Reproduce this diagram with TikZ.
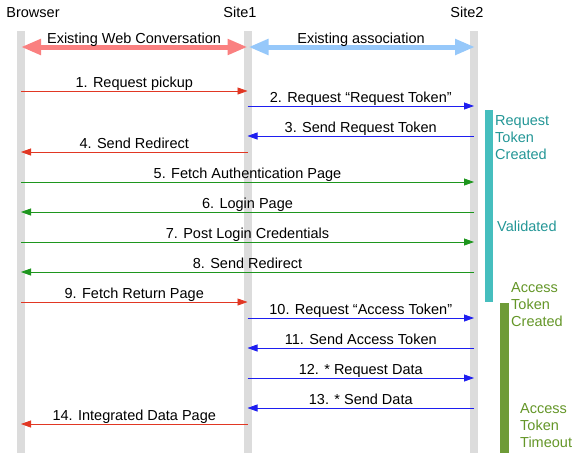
\documentclass[tikz,border=0pt]{standalone}
\usepackage{fontspec}
\setmainfont{Liberation Sans}
\usetikzlibrary{arrows.meta, positioning}

\definecolor{lifegray}{RGB}{220,220,220}
\definecolor{msgred}{RGB}{225,55,35}
\definecolor{msgblue}{RGB}{30,30,240}
\definecolor{msggreen}{RGB}{30,150,30}
\definecolor{convred}{RGB}{250,128,128}
\definecolor{assocblue}{RGB}{150,200,250}
\definecolor{tealbar}{RGB}{70,190,190}
\definecolor{tealtext}{RGB}{35,150,150}
\definecolor{olivebar}{RGB}{110,155,55}
\definecolor{olivetext}{RGB}{100,150,40}

\begin{document}
\begin{tikzpicture}[x=1pt, y=-1pt, font=\fontsize{14.5}{17}\selectfont,
    lifeline/.style={fill=lifegray, draw=none},
    msg/.style={-{Triangle[length=10pt,width=7pt]}, line width=0.8pt},
    wide/.style={{Triangle[length=20pt,width=15pt]}-{Triangle[length=20pt,width=15pt]}, line width=5pt},
    sidenote/.style={anchor=north west, inner sep=0pt, align=left}]
    \useasboundingbox (0,0) rectangle (584,461);

    % actors
    \node[anchor=base] (browser) at (33,17) {Browser};
    \node[anchor=base] (site1) at (240,17) {Site1};
    \node[anchor=base] (site2) at (467,17) {Site2};

    \coordinate (b) at (21,0);
    \coordinate (s1) at (247.5,0);
    \coordinate (s2) at (474,0);

    % lifelines
    \foreach \x in {b,s1,s2}
        \fill[lifeline] ([xshift=-4pt]\x |- 0,31) rectangle ([xshift=4pt]\x |- 0,453);

    % existing links
    \draw[wide, convred] (b |- 0,47) -- (s1 |- 0,47);
    \draw[wide, assocblue] ([xshift=1pt]s1 |- 0,47) -- ([xshift=1pt]s2 |- 0,47);
    \node[anchor=base] (conv) at (134,43) {Existing Web Conversation};
    \node[anchor=base] (assoc) at (361,43) {Existing association};

    % messages
    \foreach \y/\from/\to/\col/\txt in {
        91/b/s1/msgred/{1. Request pickup},
        106/s1/s2/msgblue/{2. Request ``Request Token''},
        136/s2/s1/msgblue/{3. Send Request Token},
        152/s1/b/msgred/{4. Send Redirect},
        182/b/s2/msggreen/{5. Fetch Authentication Page},
        212/s2/b/msggreen/{6. Login Page},
        242/b/s2/msggreen/{7. Post Login Credentials},
        272/s2/b/msggreen/{8. Send Redirect},
        302/b/s1/msgred/{9. Fetch Return Page},
        318/s1/s2/msgblue/{10. Request ``Access Token''},
        348/s2/s1/msgblue/{11. Send Access Token},
        378/s1/s2/msgblue/{12. * Request Data},
        408/s2/s1/msgblue/{13. * Send Data},
        424/s1/b/msgred/{14. Integrated Data Page}}
        \draw[msg, \col] (\from |- 0,\y) -- (\to |- 0,\y)
            node[midway, anchor=base, yshift=4pt, text=black] {\txt};

    % token state bars
    \fill[tealbar] (485,110) rectangle (493,302);
    \fill[olivebar] (500,303) rectangle (509,453);
    \node[sidenote, text=tealtext] (reqtok) at (495,115) {Request\\Token\\Created};
    \node[anchor=base west, inner sep=0pt, text=tealtext] (valid) at (497,231) {Validated};
    \node[sidenote, text=olivetext] (acctok) at (511,282) {Access\\Token\\Created};
    \node[sidenote, text=olivetext] (timeout) at (520,403) {Access\\Token\\Timeout};
\end{tikzpicture}
\end{document}
